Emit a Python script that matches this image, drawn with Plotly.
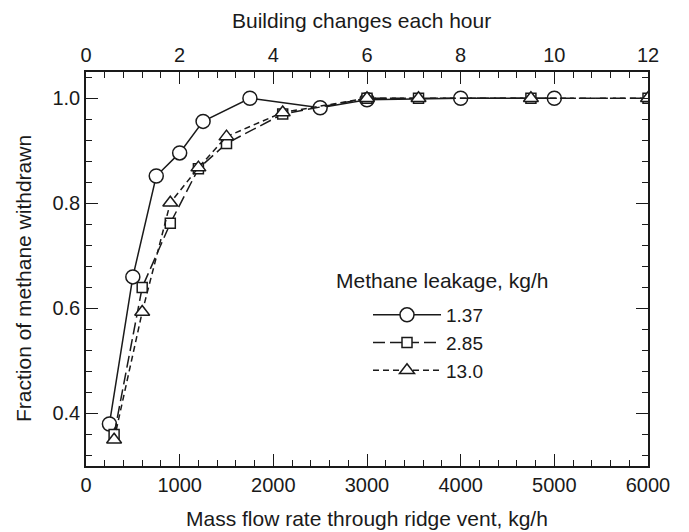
import plotly.graph_objects as go

# Data (mass flow rate through ridge vent, kg/h  vs  fraction of methane withdrawn)
flow_137 = [250, 500, 750, 1000, 1250, 1750, 2500, 3000, 4000, 5000]
frac_137 = [0.38, 0.66, 0.852, 0.896, 0.956, 1.0, 0.982, 0.997, 1.0, 1.0]

flow_285 = [300, 600, 900, 1200, 1500, 2100, 3000, 3550, 4750, 6000]
frac_285 = [0.36, 0.64, 0.762, 0.866, 0.914, 0.970, 1.0, 1.0, 1.0, 1.0]

flow_130 = [300, 600, 900, 1200, 1500, 2100, 3000, 3550, 4750, 6000]
frac_130 = [0.35, 0.593, 0.801, 0.868, 0.927, 0.973, 1.0, 1.0, 1.0, 1.0]

series_names = ["1.37", "2.85", "13.0"]

FONT = "Liberation Sans, Arial, Helvetica, sans-serif"
INK = "#1a1a1a"
FS = 20

fig = go.Figure()

fig.add_trace(go.Scatter(
    x=flow_137, y=frac_137, name=series_names[0], mode="lines+markers",
    line=dict(color=INK, width=1.5, dash="solid"),
    marker=dict(symbol="circle", size=14, color="white", line=dict(color=INK, width=1.5)),
))
fig.add_trace(go.Scatter(
    x=flow_285, y=frac_285, name=series_names[1], mode="lines+markers",
    line=dict(color=INK, width=1.5, dash="12px,5px"),
    marker=dict(symbol="square", size=10, color="white", line=dict(color=INK, width=1.5)),
))
fig.add_trace(go.Scatter(
    x=flow_130, y=frac_130, name=series_names[2], mode="lines+markers",
    line=dict(color=INK, width=1.5, dash="6px,4px"),
    marker=dict(symbol="triangle-up", size=13, color="white", line=dict(color=INK, width=1.5)),
))
# empty trace to anchor the top (building changes) axis
fig.add_trace(go.Scatter(x=[], y=[], xaxis="x2", yaxis="y", showlegend=False, hoverinfo="skip"))

L, R, T, B = 86, 41, 72, 66
W, H = 689, 532
pw, ph = W - L - R, H - T - B

def px_x(p):
    return (p - L) / pw

def px_y(p):
    return (H - B - p) / ph

axis_common = dict(
    showgrid=False, zeroline=False, showline=True, linecolor=INK, linewidth=1.5,
    ticks="inside", ticklen=12, tickwidth=1.2, tickcolor=INK,
    tickfont=dict(family=FONT, size=FS, color=INK),
)

fig.update_layout(
    width=W, height=H,
    margin=dict(l=L, r=R, t=T, b=B),
    paper_bgcolor="white", plot_bgcolor="white",
    font=dict(family=FONT, size=FS, color=INK),
    xaxis=dict(
        range=[0, 6000], tickmode="linear", tick0=0, dtick=1000,
        minor=dict(ticks="inside", ticklen=6, dtick=200, tick0=0, tickwidth=1.2, tickcolor=INK),
        mirror=True, **axis_common,
    ),
    xaxis2=dict(
        range=[0, 12], overlaying="x", side="top", anchor="y",
        tickmode="linear", tick0=0, dtick=2,
        minor=dict(ticks="inside", ticklen=6, dtick=0.4, tick0=0, tickwidth=1.2, tickcolor=INK),
        **axis_common,
    ),
    yaxis=dict(
        range=[0.3, 1.05], tickmode="linear", tick0=0, dtick=0.2, tickformat=".1f",
        minor=dict(ticks="inside", ticklen=6, dtick=0.04, tick0=0, tickwidth=1.2, tickcolor=INK),
        mirror="ticks", **axis_common,
    ),
    showlegend=True,
    legend=dict(
        x=px_x(368), y=px_y(296), xanchor="left", yanchor="top",
        bgcolor="rgba(0,0,0,0)", borderwidth=0,
        font=dict(family=FONT, size=19, color=INK),
        tracegroupgap=0, itemwidth=68,
    ),
    annotations=[
        dict(text="Building changes each hour", xref="paper", yref="paper",
             x=px_x(361), y=px_y(20), xanchor="center", yanchor="middle",
             showarrow=False, font=dict(family=FONT, size=21, color=INK)),
        dict(text="Mass flow rate through ridge vent, kg/h", xref="paper", yref="paper",
             x=px_x(367), y=px_y(518), xanchor="center", yanchor="middle",
             showarrow=False, font=dict(family=FONT, size=21, color=INK)),
        dict(text="Fraction of methane withdrawn", xref="paper", yref="paper",
             x=px_x(23), y=px_y(279), xanchor="center", yanchor="middle", textangle=-90,
             showarrow=False, font=dict(family=FONT, size=21, color=INK)),
        dict(text="Methane leakage, kg/h", xref="paper", yref="paper",
             x=px_x(334), y=px_y(280), xanchor="left", yanchor="middle",
             showarrow=False, font=dict(family=FONT, size=21, color=INK)),
    ],
)

fig.write_html("out.html")
